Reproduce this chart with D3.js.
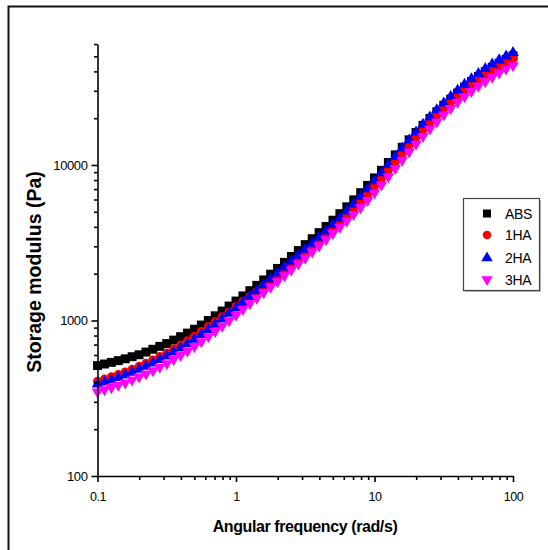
<!DOCTYPE html>
<html>
<head>
<meta charset="utf-8">
<script src="https://cdn.jsdelivr.net/npm/d3@7"></script>
<style>
  html, body { margin: 0; padding: 0; background: #fff; }
  svg { display: block; font-family: "Liberation Sans", Arial, sans-serif; }
</style>
</head>
<body>
<svg id="chart" width="548" height="550"></svg>
<script>
// Angular frequency (rad/s)
const frequencies = [
  0.1, 0.1122, 0.1259, 0.1413, 0.1585, 0.1778, 0.1995, 0.2239, 0.2512, 0.2818,
  0.3162, 0.3548, 0.3981, 0.4467, 0.5012, 0.5623, 0.631, 0.7079, 0.7943, 0.8913,
  1, 1.122, 1.259, 1.413, 1.585, 1.778, 1.995, 2.239, 2.512, 2.818,
  3.162, 3.548, 3.981, 4.467, 5.012, 5.623, 6.31, 7.079, 7.943, 8.913,
  10, 11.22, 12.59, 14.13, 15.85, 17.78, 19.95, 22.39, 25.12, 28.18,
  31.62, 35.48, 39.81, 44.67, 50.12, 56.23, 63.1, 70.79, 79.43, 89.13, 100
];
// Storage modulus (Pa)
const absValues = [
  513, 525, 538, 552, 567, 585, 602, 627, 653, 682,
  711, 748, 787, 830, 879, 935, 1000, 1072, 1151, 1239,
  1334, 1439, 1556, 1683, 1824, 1986, 2163, 2366, 2582, 2818,
  3076, 3357, 3673, 4027, 4416, 4864, 5383, 5970, 6638, 7396,
  8260, 9247, 10375, 11614, 13003, 14522, 16182, 17988, 19907, 21980,
  24211, 26546, 29040, 31700, 34432, 37153, 39811, 42466, 45186, 47757, 50350
];
const ha1Values = [
  407, 420, 434, 449, 466, 485, 507, 531, 557, 586,
  618, 655, 695, 740, 791, 849, 914, 984, 1057, 1140,
  1230, 1324, 1426, 1535, 1656, 1786, 1927, 2099, 2286, 2495,
  2723, 2979, 3258, 3573, 3926, 4305, 4742, 5248, 5821, 6486,
  7278, 8204, 9268, 10471, 11830, 13335, 14997, 16827, 18750, 20845,
  23067, 25410, 27861, 30339, 32885, 35481, 38019, 40551, 43155, 45709, 48087
];
const ha2Values = [
  389, 401, 414, 429, 445, 463, 484, 507, 532, 560,
  590, 625, 664, 706, 755, 811, 873, 944, 1021, 1109,
  1202, 1309, 1426, 1552, 1695, 1849, 2018, 2203, 2404, 2624,
  2864, 3133, 3428, 3758, 4130, 4550, 5047, 5610, 6266, 7015,
  7889, 8892, 10046, 11350, 12823, 14454, 16255, 18239, 20324, 22594,
  25003, 27542, 30200, 32961, 35810, 38726, 41591, 44463, 47315, 50119, 52723
];
const ha3Values = [
  348, 359, 371, 384, 398, 415, 434, 454, 476, 501,
  528, 562, 598, 637, 681, 731, 787, 851, 920, 1000,
  1084, 1180, 1285, 1393, 1510, 1641, 1778, 1941, 2118, 2312,
  2523, 2761, 3020, 3311, 3639, 3981, 4375, 4820, 5333, 5929,
  6622, 7464, 8433, 9528, 10765, 12134, 13646, 15311, 17061, 18967,
  20989, 23121, 25351, 27542, 29785, 32137, 34432, 36813, 39174, 41495, 43652
];
const seriesNames = ["ABS", "1HA", "2HA", "3HA"];
const seriesColors = ["#000000", "#ff0000", "#0000ff", "#ff00ff"];
const xMajorTicks = [0.1, 1, 10, 100];
const xTickLabels = ["0.1", "1", "10", "100"];
const xMinorTicks = [0.2,0.3,0.4,0.5,0.6,0.7,0.8,0.9,2,3,4,5,6,7,8,9,20,30,40,50,60,70,80,90];
const yMajorTicks = [100, 1000, 10000];
const yTickLabels = ["100", "1000", "10000"];
const yMinorTicks = [200,300,400,500,600,700,800,900,2000,3000,4000,5000,6000,7000,8000,9000,20000,30000,40000,50000,60000];

const seriesValues = [absValues, ha1Values, ha2Values, ha3Values];

const svg = d3.select("#chart");

// outer frame (partially cropped)
svg.append("rect")
  .attr("x", 8.5).attr("y", 6.5).attr("width", 700).attr("height", 700)
  .attr("fill", "none").attr("stroke", "#111").attr("stroke-width", 2);

const x = d3.scaleLog().domain([0.1, 100]).range([97.5, 513]);
const y = d3.scaleLog().domain([100, 60000]).range([476, 44]);

// symbols
const symbolTypes = [d3.symbolSquare, d3.symbolCircle, d3.symbolTriangle, d3.symbolTriangle];
const symbolSizes = [80, 64, 58, 58];
const rotations = [0, 0, 0, 180];

const plot = svg.append("g");
seriesValues.forEach((vals, si) => {
  plot.append("g").selectAll("path")
    .data(frequencies.map((f, i) => [f, vals[i]]))
    .join("path")
    .attr("d", d3.symbol().type(symbolTypes[si]).size(symbolSizes[si])())
    .attr("transform", d => `translate(${x(d[0])},${y(d[1])}) rotate(${rotations[si]})`)
    .attr("fill", seriesColors[si]);
});

// axes
const axisStroke = 1.6;
const xAxisG = svg.append("g").attr("transform", "translate(0,476)");
xAxisG.call(d3.axisBottom(x).tickValues(xMajorTicks).tickSize(6).tickSizeOuter(0).tickPadding(10)
  .tickFormat((d, i) => xTickLabels[i]));
const xMinorG = svg.append("g").attr("transform", "translate(0,476)");
xMinorG.call(d3.axisBottom(x).tickValues(xMinorTicks).tickSize(4).tickSizeOuter(0).tickFormat(""));
xMinorG.select(".domain").remove();

const yAxisG = svg.append("g").attr("transform", "translate(97.5,0)");
yAxisG.call(d3.axisLeft(y).tickValues(yMajorTicks).tickSize(6).tickSizeOuter(0).tickPadding(4)
  .tickFormat((d, i) => yTickLabels[i]));
const yMinorG = svg.append("g").attr("transform", "translate(97.5,0)");
yMinorG.call(d3.axisLeft(y).tickValues(yMinorTicks).tickSize(3.5).tickSizeOuter(0).tickFormat(""));
yMinorG.select(".domain").remove();

svg.selectAll(".domain, .tick line").attr("stroke", "#000").attr("stroke-width", axisStroke);
xAxisG.selectAll("text").attr("font-size", 12.5).attr("letter-spacing", -0.5)
  .attr("fill", "#000").attr("font-family", "Liberation Sans, Arial, sans-serif");
yAxisG.selectAll("text").attr("font-size", 13).attr("letter-spacing", -0.4)
  .attr("fill", "#000").attr("font-family", "Liberation Sans, Arial, sans-serif");

// axis titles
svg.append("text")
  .attr("x", 305).attr("y", 532)
  .attr("text-anchor", "middle")
  .attr("font-size", 16).attr("font-weight", "bold").attr("letter-spacing", -0.4)
  .text("Angular frequency (rad/s)");
svg.append("text")
  .attr("transform", "translate(41,272) rotate(-90)")
  .attr("text-anchor", "middle")
  .attr("font-size", 19.5).attr("font-weight", "bold")
  .text("Storage modulus (Pa)");

// legend
const legend = svg.append("g");
legend.append("rect")
  .attr("x", 465).attr("y", 200).attr("width", 76).attr("height", 92)
  .attr("fill", "#bbb");
legend.append("rect")
  .attr("x", 463.5).attr("y", 198.5).attr("width", 76).attr("height", 92)
  .attr("fill", "#fff").attr("stroke", "#444").attr("stroke-width", 1.2);
const legendY = [213.5, 235, 258, 279.5];
seriesNames.forEach((name, i) => {
  legend.append("path")
    .attr("d", d3.symbol().type(symbolTypes[i]).size([64, 56, 56, 56][i])())
    .attr("transform", `translate(487,${legendY[i]}) rotate(${rotations[i]})`)
    .attr("fill", seriesColors[i]);
  legend.append("text")
    .attr("x", 505).attr("y", legendY[i] + 5)
    .attr("font-size", 14).attr("letter-spacing", -0.3)
    .attr("fill", "#000")
    .text(name);
});
</script>
</body>
</html>
